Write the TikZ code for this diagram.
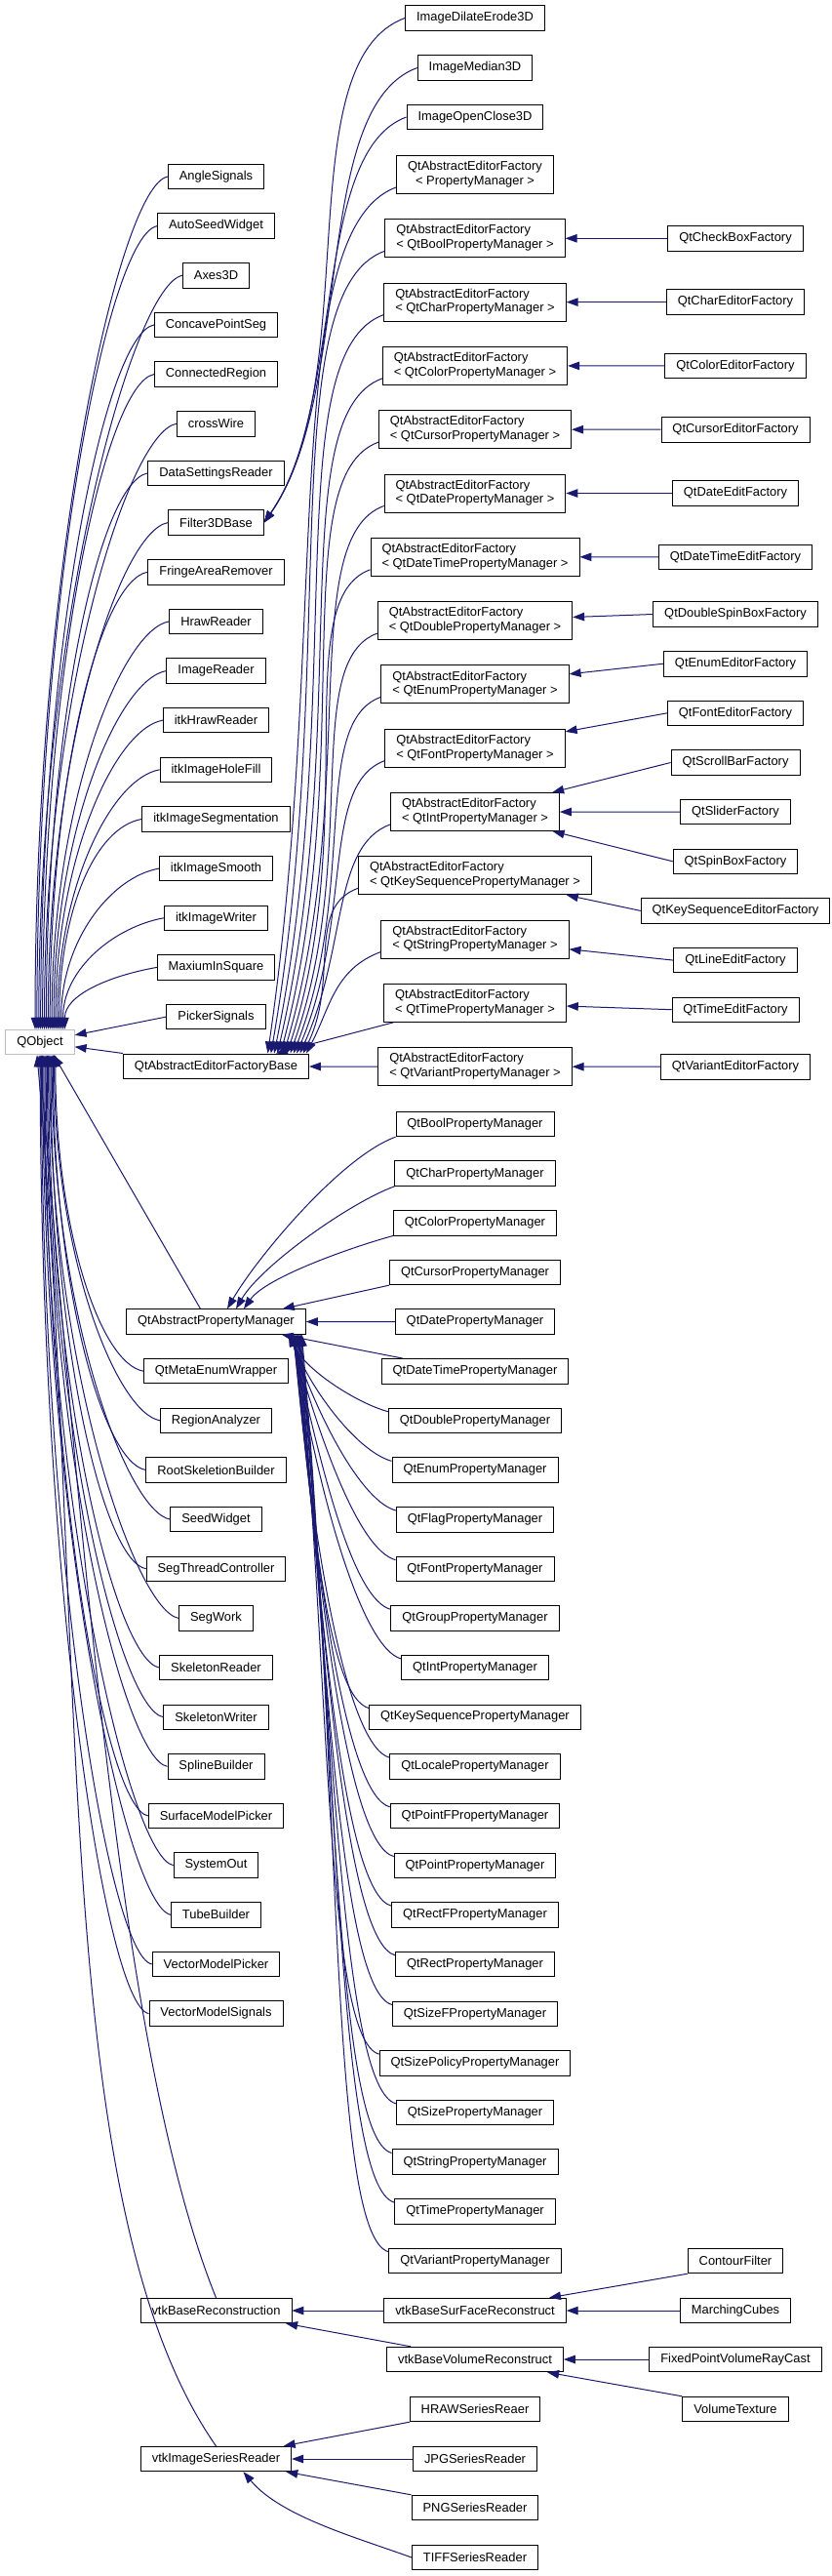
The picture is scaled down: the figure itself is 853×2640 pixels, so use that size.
\documentclass[tikz,border=0pt]{standalone}
\usepackage{fontspec}
\setmainfont{Liberation Sans}
\usetikzlibrary{arrows.meta}
\definecolor{inhblue}{RGB}{25,25,112}
\definecolor{extgray}{RGB}{191,191,191}
\tikzset{
  cls/.style={draw=black,line width=0.9pt,fill=white,inner xsep=11.5pt,inner ysep=4.8pt,
              minimum height=25.5pt,font=\fontsize{12.9}{14.7}\selectfont},
  extcls/.style={cls,draw=extgray},
  inh/.style={draw=inhblue,line width=1pt,-{Triangle[length=12pt,width=8.5pt]}},
}
\newcommand\aeflabel[1]{\begin{tabular}{@{}c@{}}QtAbstractEditorFactory\hfill\null\\{<} #1 {>}\end{tabular}}

\begin{document}
\begin{tikzpicture}[x=1pt,y=1pt]

  \path[use as bounding box,fill=white] (0,0) rectangle (853,-2640);

  \node[extcls] (QObject) at (41,-1068) {QObject};

  % first column
  \foreach \n [count=\k from 0] in {AngleSignals,AutoSeedWidget,Axes3D,ConcavePointSeg,ConnectedRegion,crossWire,
      DataSettingsReader,Filter3DBase,FringeAreaRemover,HrawReader,ImageReader,itkHrawReader,itkImageHoleFill,
      itkImageSegmentation,itkImageSmooth,itkImageWriter,MaxiumInSquare,PickerSignals,QtAbstractEditorFactoryBase}
    \node[cls] (\n) at (221.5,{-181-50.65*\k}) {\n};
  \foreach \n [count=\k from 0] in {QtAbstractPropertyManager,QtMetaEnumWrapper,RegionAnalyzer,RootSkeletionBuilder,
      SeedWidget,SegThreadController,SegWork,SkeletonReader,SkeletonWriter,SplineBuilder,SurfaceModelPicker,
      SystemOut,TubeBuilder,VectorModelPicker,VectorModelSignals}
    \node[cls] (\n) at (221.5,{-1354.5-50.65*\k}) {\n};
  \node[cls] (vtkBaseReconstruction) at (221.5,-2368) {vtkBaseReconstruction};
  \node[cls] (vtkImageSeriesReader) at (221.5,-2520) {vtkImageSeriesReader};

  % edges into QObject
  \foreach \n [count=\k from 0] in {AngleSignals,AutoSeedWidget,Axes3D,ConcavePointSeg,ConnectedRegion,crossWire,
      DataSettingsReader,Filter3DBase,FringeAreaRemover,HrawReader,ImageReader,itkHrawReader,itkImageHoleFill,
      itkImageSegmentation,itkImageSmooth,itkImageWriter,MaxiumInSquare}{
    \pgfmathsetmacro\ind{0.55*(1055-181-50.65*\k)}
    \pgfmathsetmacro\tip{-5+1.9*\k}
    \draw[inh] (\n.west) to[out=190,in=90,out distance=50pt,in distance=\ind pt] ([xshift=\tip pt]QObject.north);
  }
  \draw[inh] (PickerSignals.west) -- (QObject);
  \draw[inh] (QtAbstractEditorFactoryBase.north west) -- (QObject);
  \draw[inh] ([xshift=-16pt]QtAbstractPropertyManager.north) -- ([xshift=14pt]QObject.south);
  \foreach \n [count=\k from 1] in {QtMetaEnumWrapper,RegionAnalyzer,RootSkeletionBuilder,SeedWidget,
      SegThreadController,SegWork,SkeletonReader,SkeletonWriter,SplineBuilder,SurfaceModelPicker,SystemOut,
      TubeBuilder,VectorModelPicker,VectorModelSignals}{
    \pgfmathsetmacro\ind{0.55*(1354.5+50.65*\k-1081)}
    \pgfmathsetmacro\tip{17-1.2*\k}
    \draw[inh] (\n.west) to[out=170,in=-90,out distance=45pt,in distance=\ind pt] ([xshift=\tip pt]QObject.south);
  }
  \draw[inh] (vtkBaseReconstruction.north)
    .. controls ([shift={(112:250)}]vtkBaseReconstruction.north) and ([xshift=-1pt,shift={(-85:560)}]QObject.south)
    .. ([xshift=-1pt]QObject.south);
  \draw[inh] (vtkImageSeriesReader.north)
    .. controls ([shift={(125:300)}]vtkImageSeriesReader.north) and ([xshift=-3pt,shift={(-85:600)}]QObject.south)
    .. ([xshift=-3pt]QObject.south);

  % Filter3DBase subclasses
  \foreach \n/\y in {ImageDilateErode3D/18.5,ImageMedian3D/69.5,ImageOpenClose3D/120}{
    \node[cls] (\n) at (487,-\y) {\n};
    \pgfmathsetmacro\outd{0.25*(536-\y)}
    \pgfmathsetmacro\ind{0.35*(536-\y)}
    \draw[inh] (\n.west) to[out=200,in=55,out distance=\outd pt,in distance=\ind pt] (Filter3DBase.east);
  }

  % editor factory templates
  \foreach \m [count=\k from 0] in {PropertyManager,QtBoolPropertyManager,QtCharPropertyManager,QtColorPropertyManager,
      QtCursorPropertyManager,QtDatePropertyManager,QtDateTimePropertyManager,QtDoublePropertyManager,
      QtEnumPropertyManager,QtFontPropertyManager,QtIntPropertyManager,QtKeySequencePropertyManager,
      QtStringPropertyManager,QtTimePropertyManager,QtVariantPropertyManager}
    \node[cls] (aef-\m) at (487,{-179-65.3*\k}) {\aeflabel{\m}};
  \foreach \m [count=\k from 0] in {PropertyManager,QtBoolPropertyManager,QtCharPropertyManager,QtColorPropertyManager,
      QtCursorPropertyManager,QtDatePropertyManager,QtDateTimePropertyManager,QtDoublePropertyManager,
      QtEnumPropertyManager,QtFontPropertyManager,QtIntPropertyManager,QtKeySequencePropertyManager,
      QtStringPropertyManager}{
    \pgfmathsetmacro\dy{1080-(179+65.3*\k+13)}
    \pgfmathsetmacro\outd{40+0.1*\dy}
    \pgfmathsetmacro\ind{0.5*\dy}
    \pgfmathsetmacro\inang{60+22*(\dy/900)}
    \pgfmathsetmacro\tip{-42.5+3.3*\k}
    \draw[inh] ([yshift=7pt]aef-\m.south west) to[out=200,in=\inang,out distance=\outd pt,in distance=\ind pt]
      ([xshift=\tip pt]QtAbstractEditorFactoryBase.north east);
  }
  \draw[inh] ([xshift=10pt]aef-QtTimePropertyManager.south west) -- ([xshift=-34pt]QtAbstractEditorFactoryBase.north east);
  \draw[inh] (aef-QtVariantPropertyManager.west) -- (QtAbstractEditorFactoryBase);

  % concrete factories
  \foreach \f/\y/\m in {QtCheckBoxFactory/244.3/QtBoolPropertyManager,QtCharEditorFactory/309.6/QtCharPropertyManager,
      QtColorEditorFactory/374.9/QtColorPropertyManager,QtCursorEditorFactory/440.2/QtCursorPropertyManager,
      QtDateEditFactory/505.5/QtDatePropertyManager,QtDateTimeEditFactory/570.8/QtDateTimePropertyManager,
      QtDoubleSpinBoxFactory/629.5/QtDoublePropertyManager,QtEnumEditorFactory/680.2/QtEnumPropertyManager,
      QtFontEditorFactory/730.8/QtFontPropertyManager,QtScrollBarFactory/781.5/QtIntPropertyManager,
      QtSliderFactory/832.1/QtIntPropertyManager,QtSpinBoxFactory/882.8/QtIntPropertyManager,
      QtKeySequenceEditorFactory/933.4/QtKeySequencePropertyManager,QtLineEditFactory/984.1/QtStringPropertyManager,
      QtTimeEditFactory/1034.7/QtTimePropertyManager,QtVariantEditorFactory/1093.2/QtVariantPropertyManager}{
    \node[cls] (\f) at (754,-\y) {\f};
    \draw[inh] (\f.west) -- (aef-\m);
  }

  % property managers
  \foreach \m [count=\k from 0] in {QtBoolPropertyManager,QtCharPropertyManager,QtColorPropertyManager,
      QtCursorPropertyManager,QtDatePropertyManager,QtDateTimePropertyManager,QtDoublePropertyManager,
      QtEnumPropertyManager,QtFlagPropertyManager,QtFontPropertyManager,QtGroupPropertyManager,QtIntPropertyManager,
      QtKeySequencePropertyManager,QtLocalePropertyManager,QtPointFPropertyManager,QtPointPropertyManager,
      QtRectFPropertyManager,QtRectPropertyManager,QtSizeFPropertyManager,QtSizePolicyPropertyManager,
      QtSizePropertyManager,QtStringPropertyManager,QtTimePropertyManager,QtVariantPropertyManager}
    \node[cls] (\m) at (487,{-1152-50.65*\k}) {\m};
  \draw[inh] (QtBoolPropertyManager.south west) to[out=200,in=60,out distance=60pt,in distance=60pt]
    ([xshift=11.5pt]QtAbstractPropertyManager.north);
  \draw[inh] (QtCharPropertyManager.south west) to[out=200,in=60,out distance=50pt,in distance=50pt]
    ([xshift=20.5pt]QtAbstractPropertyManager.north);
  \draw[inh] (QtColorPropertyManager.south west) to[out=195,in=55,out distance=40pt,in distance=40pt]
    ([xshift=28.5pt]QtAbstractPropertyManager.north);
  \draw[inh] (QtCursorPropertyManager.south west) -- ([xshift=-24pt]QtAbstractPropertyManager.north east);
  \draw[inh] (QtDatePropertyManager.west) -- (QtAbstractPropertyManager);
  \draw[inh] ([xshift=22pt]QtDateTimePropertyManager.north west) -- (QtAbstractPropertyManager);
  \foreach \m [count=\k from 6] in {QtDoublePropertyManager,QtEnumPropertyManager,QtFlagPropertyManager,
      QtFontPropertyManager,QtGroupPropertyManager,QtIntPropertyManager,QtKeySequencePropertyManager,
      QtLocalePropertyManager,QtPointFPropertyManager,QtPointPropertyManager,QtRectFPropertyManager,
      QtRectPropertyManager,QtSizeFPropertyManager,QtSizePolicyPropertyManager,QtSizePropertyManager,
      QtStringPropertyManager,QtTimePropertyManager,QtVariantPropertyManager}{
    \pgfmathsetmacro\dy{1152+50.65*\k-8.75-1367}
    \pgfmathsetmacro\outd{30+0.035*\dy}
    \pgfmathsetmacro\ind{0.5*\dy}
    \pgfmathsetmacro\inang{-60-25*min(1,\dy/400)}
    \pgfmathsetmacro\tip{-18+0.8*(\k-6)}
    \draw[inh] ([yshift=-4pt]\m.north west) to[out=165,in=\inang,out distance=\outd pt,in distance=\ind pt]
      ([xshift=\tip pt]QtAbstractPropertyManager.south east);
  }

  % vtk branch
  \node[cls] (vtkBaseSurFaceReconstruct) at (487,-2368) {vtkBaseSurFaceReconstruct};
  \node[cls] (vtkBaseVolumeReconstruct) at (487,-2418) {vtkBaseVolumeReconstruct};
  \node[cls] (ContourFilter) at (754,-2317) {ContourFilter};
  \node[cls] (MarchingCubes) at (754,-2368) {MarchingCubes};
  \node[cls] (FixedPointVolumeRayCast) at (754,-2418) {FixedPointVolumeRayCast};
  \node[cls] (VolumeTexture) at (754,-2469) {VolumeTexture};
  \node[cls] (HRAWSeriesReaer) at (487,-2469) {HRAWSeriesReaer};
  \node[cls] (JPGSeriesReader) at (487,-2520) {JPGSeriesReader};
  \node[cls] (PNGSeriesReader) at (487,-2570) {PNGSeriesReader};
  \node[cls] (TIFFSeriesReader) at (487,-2621) {TIFFSeriesReader};

  \draw[inh] (vtkBaseSurFaceReconstruct.west) -- (vtkBaseReconstruction);
  \draw[inh] ([xshift=25pt]vtkBaseVolumeReconstruct.north west) -- (vtkBaseReconstruction);
  \draw[inh] (ContourFilter.south west) -- (vtkBaseSurFaceReconstruct);
  \draw[inh] (MarchingCubes.west) -- (vtkBaseSurFaceReconstruct);
  \draw[inh] (FixedPointVolumeRayCast.west) -- (vtkBaseVolumeReconstruct);
  \draw[inh] (VolumeTexture.north west) -- (vtkBaseVolumeReconstruct);
  \draw[inh] (HRAWSeriesReaer.south west) -- (vtkImageSeriesReader);
  \draw[inh] (JPGSeriesReader.west) -- (vtkImageSeriesReader);
  \draw[inh] (PNGSeriesReader.north west) -- (vtkImageSeriesReader);
  \draw[inh] (TIFFSeriesReader.west) to[out=160,in=-50,out distance=60pt,in distance=60pt]
    ([xshift=28pt]vtkImageSeriesReader.south);

\end{tikzpicture}
\end{document}
